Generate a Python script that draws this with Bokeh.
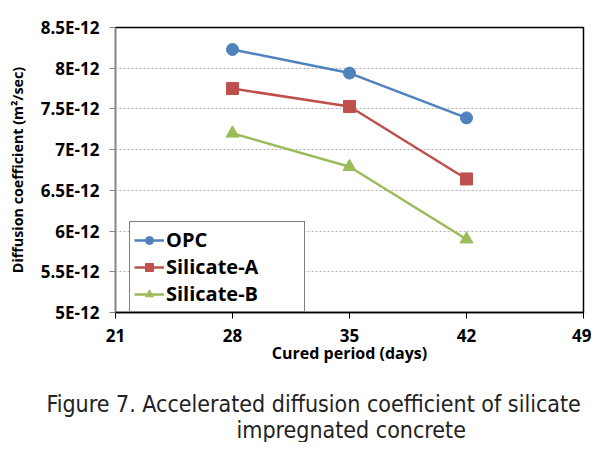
from bokeh.plotting import figure
from bokeh.layouts import column
from bokeh.models import Range1d, FixedTicker, CustomJSTickFormatter, Label, Title, Legend, LegendItem
from bokeh.embed import file_html
from bokeh.resources import INLINE

days = [28, 35, 42]
opc = [8.23e-12, 7.94e-12, 7.39e-12]
silicate_a = [7.75e-12, 7.53e-12, 6.64e-12]
silicate_b = [7.20e-12, 6.79e-12, 5.90e-12]
x_ticks = [21, 28, 35, 42, 49]
y_ticks = [5.0e-12, 5.5e-12, 6.0e-12, 6.5e-12, 7.0e-12, 7.5e-12, 8.0e-12, 8.5e-12]
caption_lines = ["Figure 7. Accelerated diffusion coefficient of silicate", "impregnated concrete"]

FONT = "Open Sans"
CAP_FONT = "'Liberation Sans Narrow', 'DejaVu Sans Condensed', sans-serif"

p = figure(width=591, height=388, output_backend="svg", toolbar_location=None,
           x_range=Range1d(21, 49), y_range=Range1d(5.0e-12, 8.5e-12),
           min_border_left=115, min_border_right=8, min_border_top=27, min_border_bottom=76)
p.background_fill_color = "white"
p.border_fill_color = "white"
p.outline_line_color = "black"
p.outline_line_width = 1.5

p.xgrid.visible = False
p.ygrid.ticker = FixedTicker(ticks=y_ticks)
p.ygrid.grid_line_color = "#b0b0b0"
p.ygrid.grid_line_dash = "2 2"
p.ygrid.grid_line_width = 1

p.xaxis.ticker = FixedTicker(ticks=x_ticks)
p.yaxis.ticker = FixedTicker(ticks=y_ticks)
p.yaxis.formatter = CustomJSTickFormatter(code="var v = Math.round(tick*1e13)/10; return v + 'E-12';")

for ax in (p.xaxis[0], p.yaxis[0]):
    ax.major_label_text_font = FONT
    ax.major_label_text_font_style = "bold"
    ax.major_label_text_font_size = "17px"
    ax.major_label_text_color = "black"
    ax.axis_label_text_font = FONT
    ax.axis_label_text_font_style = "bold"
    ax.axis_label_text_color = "black"
    ax.minor_tick_line_color = None
    ax.major_tick_out = 6
    ax.major_tick_in = 0

p.xaxis.axis_label = "Cured period (days)"
p.xaxis.axis_label_text_font_size = "16px"
p.xaxis.axis_line_color = "black"
p.xaxis.axis_line_width = 1.5
p.xaxis.major_tick_line_color = "black"
p.xaxis.major_label_standoff = 10
p.xaxis.axis_label_standoff = -3

p.yaxis.axis_label = "Diffusion coefficient (m\u00b2/sec)"
p.yaxis.axis_label_text_font_size = "14.3px"
p.yaxis.axis_line_color = "#868686"
p.yaxis.major_tick_line_color = "#868686"
p.yaxis.major_label_standoff = 10
p.yaxis.axis_label_standoff = 11

blue, red, green = "#4F81BD", "#C0504D", "#9BBB59"

l1 = p.line(days, opc, line_color=blue, line_width=2.5)
s1 = p.scatter(days, opc, marker="circle", size=12, fill_color=blue, line_color=blue)
l2 = p.line(days, silicate_a, line_color=red, line_width=2.5)
s2 = p.scatter(days, silicate_a, marker="square", size=12, fill_color=red, line_color=red)
l3 = p.line(days, silicate_b, line_color=green, line_width=2.5)
s3 = p.scatter(days, silicate_b, marker="triangle", size=13, fill_color=green, line_color=green)

legend = Legend(items=[
    LegendItem(label="OPC", renderers=[l1, s1]),
    LegendItem(label="Silicate-A", renderers=[l2, s2]),
    LegendItem(label="Silicate-B", renderers=[l3, s3]),
], location=(14, 0))
legend.label_text_font = FONT
legend.label_text_font_style = "bold"
legend.label_text_font_size = "20px"
legend.label_text_color = "black"
legend.border_line_color = "black"
legend.border_line_width = 1.5
legend.background_fill_alpha = 1
legend.glyph_width = 30
legend.glyph_height = 20
legend.label_height = 20
legend.label_width = 134
legend.label_standoff = 2
legend.spacing = 0
legend.padding = 4
legend.margin = 0
p.add_layout(legend, "center")

# caption panel below the chart
cap = figure(width=591, height=54, output_backend="svg", toolbar_location=None,
             x_range=Range1d(0, 1), y_range=Range1d(0, 1),
             min_border=0, x_axis_type=None, y_axis_type=None)
cap.outline_line_color = None
cap.grid.visible = False
cap.background_fill_color = "white"
cap.border_fill_color = "white"
cap.add_layout(Title(text=caption_lines[0], align="left", offset=-69, standoff=0,
                     text_font=CAP_FONT, text_font_style="normal", text_font_size="23px",
                     text_color="#222222"), "above")
cap.add_layout(Label(x=236, y=41, x_units="canvas", y_units="canvas", text=caption_lines[1],
                     text_font=CAP_FONT, text_font_size="23px", text_color="#222222",
                     text_align="left", text_baseline="middle"))

layout = column(p, cap, spacing=0)
open("out.html", "w").write(file_html(layout, INLINE))
